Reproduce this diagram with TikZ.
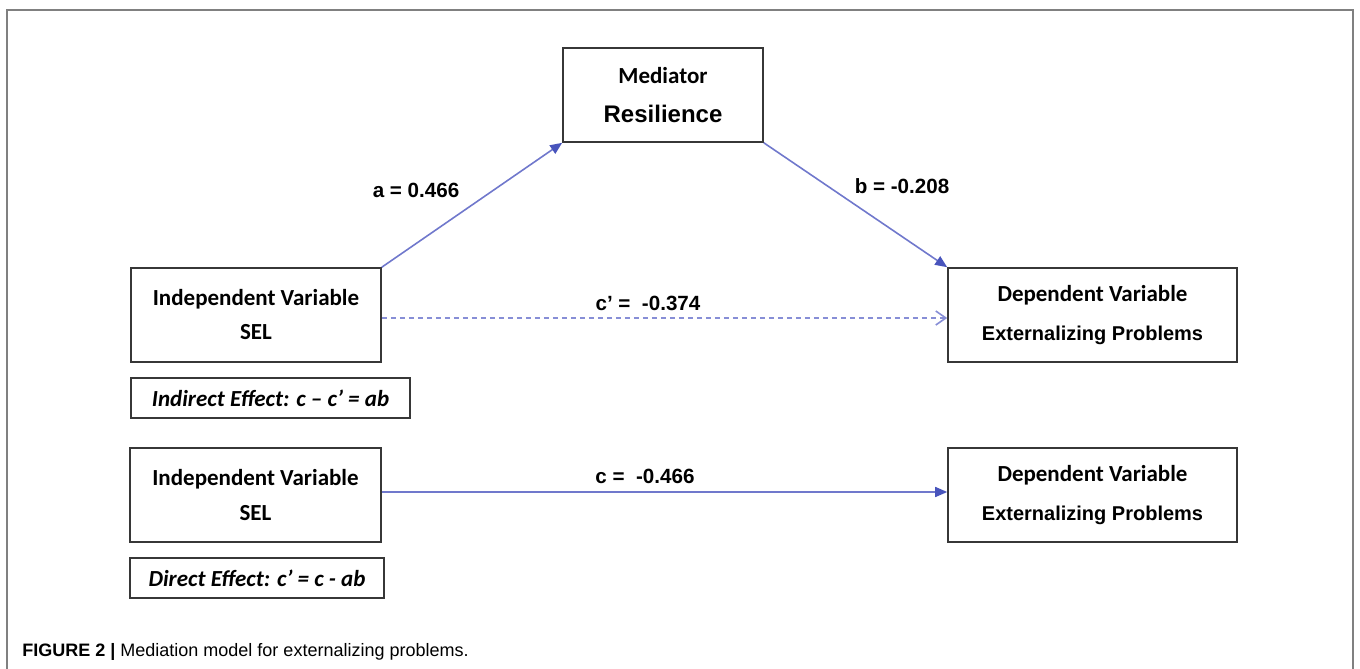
\documentclass[tikz,border=0pt]{standalone}
\usepackage{fontspec}
\setmainfont{Liberation Sans}
\newfontfamily\calib{Carlito}
\usetikzlibrary{arrows.meta}
\definecolor{lineblue}{RGB}{112,120,204}
\definecolor{dashblue}{RGB}{135,142,214}
\definecolor{tipblue}{RGB}{72,84,188}
\definecolor{boxline}{RGB}{55,55,55}
\begin{document}
\begin{tikzpicture}[x=0.5pt,y=-0.5pt,
  varbox/.style={draw=boxline,line width=0.8pt,inner sep=0pt,align=center},
  effarrow/.style={draw=lineblue,line width=0.8pt,-{Triangle[length=6pt,width=5pt,color=tipblue]}},
  lbl/.style={inner sep=0pt,font=\bfseries\fontsize{10.3}{12}\selectfont}]
\useasboundingbox (0,0) rectangle (1360,669);
\draw[gray,line width=0.6pt] (7,669) -- (7,10) -- (1353,10) -- (1353,669);
% top model
\node[varbox,minimum width=100pt,minimum height=47pt,font=\calib\bfseries\fontsize{11.5}{19.5}\selectfont] (med) at (663,95)
	{Mediator\\{\normalfont\bfseries\fontsize{12}{19.5}\selectfont Resilience}};
\node[varbox,minimum width=125pt,minimum height=47pt,font=\calib\bfseries\fontsize{11.5}{17}\selectfont] (iv1) at (256,315)
	{Independent Variable\\SEL};
\node[varbox,minimum width=144.5pt,minimum height=47pt,font=\calib\bfseries\fontsize{11.5}{19.5}\selectfont] (dv1) at (1092.5,315)
	{Dependent Variable\\{\normalfont\bfseries\fontsize{10}{19.5}\selectfont Externalizing Problems}};
\node[varbox,minimum width=139.5pt,minimum height=20pt,font=\calib\bfseries\itshape\fontsize{11.5}{14}\selectfont] (ind) at (270.5,398)
	{Indirect Effect: c – c’ = ab};
\draw[effarrow] (iv1.north east) -- (med.south west);
\draw[effarrow] (med.south east) -- (dv1.north west);
\draw[effarrow,draw=dashblue,dash pattern=on 2.5pt off 2pt,-{Straight Barb[length=5pt,width=7pt,color=dashblue]}]
	([yshift=-1.5pt]iv1.east) -- ([yshift=-1.5pt]dv1.west);
\node[lbl] (la) at (416,190) {a = 0.466};
\node[lbl] (lb) at (902,186) {b = -0.208};
\node[lbl] (lcp) at (648,303) {c’ =\ \ -0.374};
% bottom model
\node[varbox,minimum width=125.5pt,minimum height=47pt,font=\calib\bfseries\fontsize{11.5}{17.5}\selectfont] (iv2) at (255.5,495)
	{Independent Variable\\SEL};
\node[varbox,minimum width=144.5pt,minimum height=47pt,font=\calib\bfseries\fontsize{11.5}{19.5}\selectfont] (dv2) at (1092.5,495)
	{Dependent Variable\\{\normalfont\bfseries\fontsize{10}{19.5}\selectfont Externalizing Problems}};
\node[varbox,minimum width=127pt,minimum height=20pt,font=\calib\bfseries\itshape\fontsize{11.5}{14}\selectfont] (dir) at (257,578)
	{Direct Effect: c’ = c - ab};
\draw[effarrow] ([yshift=1.5pt]iv2.east) -- ([yshift=1.5pt]dv2.west);
\node[lbl] (lc) at (645,476) {c =\ \ -0.466};
% caption
\node[anchor=west,inner sep=0pt,font=\fontsize{9}{11}\selectfont] (cap) at (22,652)
	{\textbf{FIGURE 2 |} Mediation model for externalizing problems.};
\end{tikzpicture}
\end{document}
